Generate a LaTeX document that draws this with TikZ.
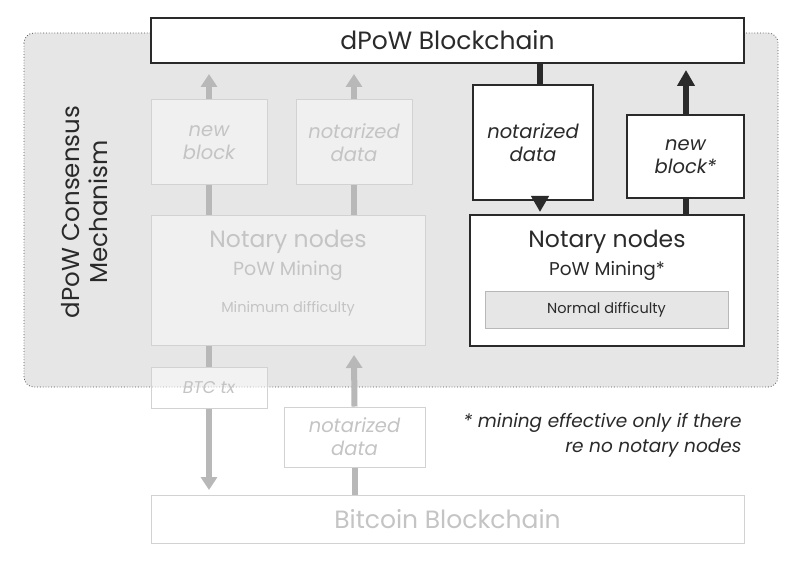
\documentclass[tikz,border=0pt]{standalone}
\usepackage{fontspec}
\setmainfont{Poppins}
\usetikzlibrary{arrows.meta}
\definecolor{fade}{HTML}{C4C4C4}
\definecolor{fadeline}{HTML}{D2D2D2}
\definecolor{farrow}{HTML}{B8B8B8}
\definecolor{region}{HTML}{E6E6E6}
\definecolor{dark}{HTML}{2A2A2A}
\begin{document}
\begin{tikzpicture}[x=1pt,y=-1pt,
  fbox/.style={draw=fadeline,line width=1pt,text=fade,align=center},
  dbox/.style={draw=dark,fill=white,line width=1.2pt,text=dark,align=center},
  farr/.style={draw=farrow,line width=6pt,-{Triangle[width=16pt,length=13pt]}},
  darr/.style={draw=dark,line width=6pt,-{Triangle[width=17pt,length=16pt]}},
  itf/.style={font=\fontsize{19.5}{23}\selectfont\itshape}]
\useasboundingbox (0,0) rectangle (800,564);
\fill[white] (0,0) rectangle (800,564);
\draw[dotted,draw=dark!80,fill=region,rounded corners=10pt,line width=0.8pt] (24,33) rectangle (778,387);
\node[rotate=90,align=center,text=dark,font=\fontsize{24.5}{28}\selectfont] (mech) at (85,212) {dPoW Consensus\\Mechanism};
% main boxes
\node[dbox,minimum width=593pt,minimum height=45pt,font=\fontsize{25}{28}\selectfont] (dpow) at (447.5,40.5) {dPoW Blockchain};
\node[fbox,fill=white,minimum width=593pt,minimum height=48pt,font=\fontsize{25}{28}\selectfont] (btc) at (447.5,519) {Bitcoin Blockchain};
% faded left side
\node[fbox,fill=region!60!white,minimum width=274pt,minimum height=130pt] (fnn) at (288,280) {};
\node[text=fade,font=\fontsize{23.5}{26}\selectfont] (fnt) at (288,242) {Notary nodes};
\node[text=fade,font=\fontsize{19}{22}\selectfont] (fpm) at (288,271) {PoW Mining};
\node[text=fade,font=\fontsize{14.5}{17}\selectfont] (fmd) at (288,309) {Minimum difficulty};
\node[fbox,fill=region!60!white,minimum width=116pt,minimum height=85pt,itf] (fnb) at (209,142.5) {new\\block};
\node[fbox,fill=region!60!white,minimum width=116pt,minimum height=85pt,itf] (fnd) at (354,142.5) {notarized\\data};
\node[fbox,fill=white,fill opacity=0.5,text opacity=1,minimum width=116pt,minimum height=41pt,font=\fontsize{17}{20}\selectfont\itshape] (ftx) at (209,387.5) {BTC tx};
\node[fbox,fill=white,minimum width=141pt,minimum height=60pt,itf] (fnd2) at (354.5,437) {notarized\\data};
% faded arrows
\draw[farrow,line width=6pt] (fnn.south -| fnb) -- (ftx.north);
\draw[farr] (ftx.south) -- (209,490);
\draw[farrow,line width=6pt] (fnb.south) -- (fnn.north -| fnb);
\draw[farr] (fnb.north) -- (209,74);
\draw[farrow,line width=6pt] (fnd.south) -- (fnn.north -| fnd);
\draw[farr] (fnd.north) -- (354,74);
\draw[farrow,line width=6pt] (btc.north -| fnd2) -- (fnd2.south);
\draw[farr] (fnd2.north) -- (354,355);
% dark right side
\node[dbox,minimum width=274pt,minimum height=131pt] (nn) at (607,280.5) {};
\node[text=dark,font=\fontsize{23.5}{26}\selectfont] (nt) at (607,242) {Notary nodes};
\node[text=dark,font=\fontsize{18.5}{22}\selectfont] (pm) at (607,271) {PoW Mining*};
\node[fill=region,draw=region!80!black,line width=0.4pt,minimum width=243pt,minimum height=37pt,text=dark,font=\fontsize{14.5}{17}\selectfont] (nd) at (606.5,309.5) {Normal difficulty};
\node[dbox,minimum width=120pt,minimum height=115pt,itf] (dnd) at (533,142.5) {notarized\\data};
\node[dbox,minimum width=117pt,minimum height=83pt,itf] (dnb) at (685.5,156.5) {new\\block*};
\draw[dark,line width=6pt] (dpow.south -| 540,0) -- (540,85);
\draw[darr] (540,200) -- (540,212);
\draw[dark,line width=6pt] (nn.north -| 686,0) -- (686,198);
\draw[darr] (686,115) -- (686,70);
% footnote
\node[anchor=east,align=right,text=dark,font=\fontsize{18.5}{25}\selectfont\itshape] (fn) at (745,435) {* mining effective only if there\\re no notary nodes};
\end{tikzpicture}
\end{document}
